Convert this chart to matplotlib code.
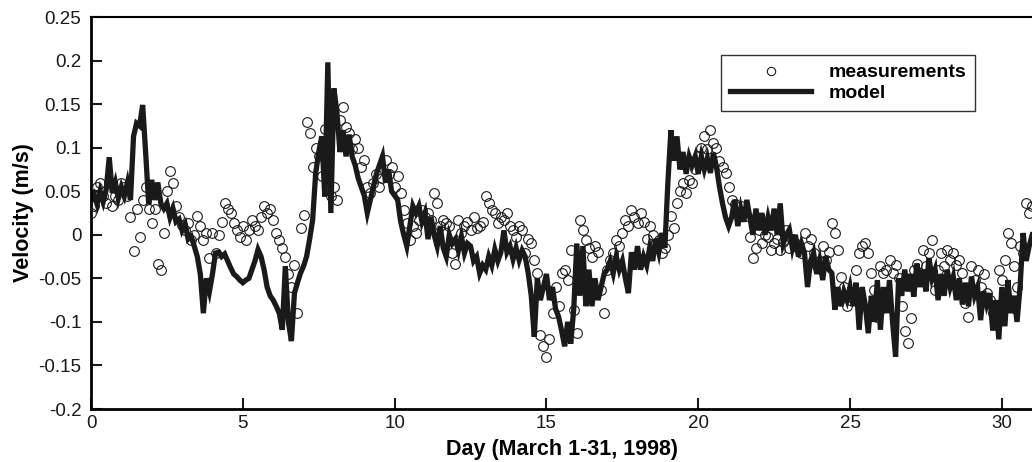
import numpy as np
import matplotlib
matplotlib.use('Agg')
from matplotlib import pyplot as plt

plt.rcParams['font.family'] = ['Liberation Sans', 'DejaVu Sans']

# sampling step of both series (days)
step = 0.1

# model velocity (m/s), days 0.0 .. 31.0
model = [
    0.040, 0.046, 0.035, 0.050, 0.038, 0.052, 0.089, 0.048, 0.060, 0.042,
    0.055, 0.045, 0.060, 0.040, 0.113, 0.128, 0.125, 0.149, 0.094, 0.035,
    0.063, 0.040, 0.060, 0.036, 0.030, 0.036, 0.020, 0.030, 0.015, 0.018,
    0.005, 0.012, -0.005, -0.002, -0.013, -0.025, -0.045, -0.090, -0.050, -0.065,
    -0.045, -0.021, -0.020, -0.025, -0.022, -0.030, -0.038, -0.045, -0.048, -0.052,
    -0.055, -0.052, -0.050, -0.040, -0.030, -0.017, -0.025, -0.040, -0.060, -0.070,
    -0.075, -0.082, -0.090, -0.109, -0.036, -0.100, -0.122, -0.067, -0.055, -0.044,
    -0.036, -0.025, -0.005, 0.017, 0.071, 0.095, 0.113, 0.044, 0.198, 0.025,
    0.168, 0.140, 0.095, 0.120, 0.090, 0.115, 0.090, 0.080, 0.065, 0.055,
    0.045, 0.025, 0.040, 0.055, 0.070, 0.080, 0.090, 0.060, 0.075, 0.050,
    0.045, 0.040, 0.015, 0.000, -0.013, 0.010, 0.033, 0.025, 0.033, 0.015,
    0.025, -0.005, 0.020, 0.000, -0.013, 0.010, -0.015, -0.025, 0.000, -0.010,
    -0.005, -0.018, -0.002, -0.021, -0.010, -0.013, -0.030, -0.025, -0.044, -0.035,
    -0.040, -0.025, -0.035, -0.017, -0.030, -0.020, 0.005, -0.020, -0.013, -0.028,
    -0.015, -0.029, -0.018, -0.025, -0.044, -0.070, -0.117, -0.050, -0.075, -0.060,
    -0.045, -0.075, -0.060, -0.085, -0.094, -0.110, -0.128, -0.100, -0.125, -0.085,
    -0.010, -0.070, -0.013, -0.082, -0.040, -0.082, -0.050, -0.075, -0.060, -0.045,
    -0.040, -0.030, -0.044, -0.025, -0.040, -0.030, -0.050, -0.067, -0.020, -0.040,
    -0.013, -0.040, -0.025, -0.035, -0.015, -0.030, -0.005, -0.020, 0.002, -0.015,
    0.060, 0.120, 0.085, 0.113, 0.075, 0.095, 0.070, 0.090, 0.080, 0.090,
    0.070, 0.090, 0.075, 0.088, 0.071, 0.094, 0.078, 0.055, 0.036, 0.020,
    0.010, 0.020, 0.040, 0.010, 0.030, 0.015, 0.040, 0.020, 0.000, 0.030,
    0.005, 0.025, 0.000, 0.020, 0.005, 0.030, 0.000, 0.036, -0.010, 0.000,
    0.006, -0.015, 0.000, -0.025, -0.010, -0.021, -0.060, -0.030, -0.021, -0.045,
    -0.030, -0.052, -0.025, -0.040, -0.044, -0.086, -0.060, -0.082, -0.065, -0.075,
    -0.060, -0.082, -0.055, -0.109, -0.060, -0.080, -0.113, -0.070, -0.100, -0.052,
    -0.109, -0.060, -0.090, -0.052, -0.100, -0.140, -0.050, -0.070, -0.040, -0.065,
    -0.045, -0.071, -0.033, -0.060, -0.040, -0.065, -0.027, -0.050, -0.040, -0.075,
    -0.045, -0.070, -0.040, -0.060, -0.048, -0.075, -0.050, -0.080, -0.055, -0.082,
    -0.048, -0.070, -0.060, -0.098, -0.065, -0.080, -0.067, -0.110, -0.075, -0.120,
    -0.060, -0.105, -0.052, -0.090, -0.070, -0.100, -0.060, 0.002, -0.030, -0.013,
    0.000,
]

# measured velocity (m/s), days 0.0 .. 31.0
measured = [
    0.025, 0.033, 0.055, 0.060, 0.045, 0.036, 0.060, 0.033, 0.045, 0.040,
    0.060, 0.055, 0.044, 0.020, -0.019, 0.030, -0.002, 0.040, 0.055, 0.030,
    0.013, 0.030, -0.033, -0.040, 0.002, 0.050, 0.073, 0.060, 0.033, 0.020,
    0.011, 0.005, 0.013, -0.006, 0.000, 0.021, 0.010, -0.006, 0.002, -0.027,
    0.002, -0.021, 0.000, 0.015, 0.036, 0.030, 0.025, 0.013, 0.005, -0.002,
    0.010, -0.006, 0.005, 0.017, 0.010, 0.006, 0.020, 0.033, 0.025, 0.030,
    0.017, 0.002, -0.006, -0.015, -0.025, -0.045, -0.060, -0.035, -0.090, 0.008,
    0.023, 0.130, 0.117, 0.078, 0.100, 0.090, 0.067, 0.122, 0.052, 0.045,
    0.055, 0.040, 0.132, 0.147, 0.124, 0.117, 0.098, 0.110, 0.100, 0.078,
    0.086, 0.055, 0.048, 0.060, 0.070, 0.055, 0.065, 0.086, 0.070, 0.078,
    0.055, 0.067, 0.048, 0.029, 0.013, -0.006, 0.010, 0.002, 0.017, 0.029,
    0.020, 0.025, 0.017, 0.048, 0.036, 0.010, 0.017, 0.013, 0.010, -0.021,
    -0.033, 0.017, 0.002, 0.010, 0.015, 0.005, 0.020, 0.008, 0.010, 0.015,
    0.044, 0.036, 0.029, 0.025, 0.013, 0.020, 0.017, 0.025, 0.010, 0.005,
    -0.002, 0.010, 0.006, -0.021, -0.005, -0.010, -0.029, -0.044, -0.115, -0.128,
    -0.140, -0.120, -0.090, -0.060, -0.082, -0.044, -0.040, -0.052, -0.017, -0.086,
    -0.113, 0.017, 0.005, -0.006, -0.015, -0.025, -0.013, -0.020, -0.063, -0.090,
    -0.040, -0.029, -0.021, -0.006, -0.013, 0.002, 0.017, 0.010, 0.029, 0.020,
    0.013, 0.025, 0.015, -0.005, 0.010, 0.000, -0.010, -0.006, -0.021, -0.015,
    0.000, 0.021, 0.008, 0.036, 0.050, 0.060, 0.048, 0.063, 0.060, 0.075,
    0.090, 0.100, 0.113, 0.098, 0.120, 0.105, 0.100, 0.085, 0.078, 0.071,
    0.055, 0.040, 0.035, 0.025, 0.033, 0.025, 0.021, -0.002, -0.027, -0.015,
    0.006, -0.010, 0.000, -0.002, -0.017, -0.010, -0.005, -0.017, -0.008, 0.006,
    -0.015, -0.005, -0.010, -0.015, -0.021, 0.002, -0.013, -0.005, -0.021, -0.036,
    -0.030, -0.013, -0.029, -0.020, 0.013, 0.002, -0.017, -0.048, -0.060, -0.082,
    -0.075, -0.067, -0.040, -0.021, -0.013, -0.010, -0.021, -0.044, -0.063, -0.094,
    -0.036, -0.044, -0.040, -0.029, -0.044, -0.035, -0.050, -0.082, -0.110, -0.124,
    -0.095, -0.040, -0.033, -0.044, -0.017, -0.036, -0.021, -0.006, -0.063, -0.040,
    -0.021, -0.036, -0.017, -0.029, -0.021, -0.035, -0.029, -0.044, -0.078, -0.094,
    -0.036, -0.052, -0.040, -0.060, -0.045, -0.067, -0.075, -0.090, -0.082, -0.040,
    -0.052, -0.029, 0.002, -0.010, -0.036, -0.060, -0.013, -0.021, 0.036, 0.025,
    0.033,
]

x_ticks = [0, 5, 10, 15, 20, 25, 30]
y_ticks = [-0.2, -0.15, -0.1, -0.05, 0, 0.05, 0.1, 0.15, 0.2, 0.25]
y_tick_labels = ['-0.2', '-0.15', '-0.1', '-0.05', '0', '0.05', '0.1',
                 '0.15', '0.2', '0.25']

days = np.arange(len(model)) * step

fig = plt.figure(figsize=(10.32, 4.62), dpi=100)
ax = fig.add_axes([0.0882, 0.1147, 0.912, 0.8485])

ax.plot(days, measured, 'o', mfc='none', mec='#1a1a1a', ms=7, mew=0.8,
        label='measurements', zorder=3)
ax.plot(days, model, '-', color='#1a1a1a', lw=3.8, solid_joinstyle='miter',
        label='model', zorder=2)

ax.set_xlim(0, 31)
ax.set_ylim(-0.2, 0.25)
ax.set_xticks(x_ticks)
ax.set_yticks(y_ticks)
ax.set_yticklabels(y_tick_labels)
ax.tick_params(direction='in', length=8, width=1.5, labelsize=13.5,
               colors='#1a1a1a')
ax.tick_params(axis='y', pad=7)
ax.tick_params(axis='x', pad=4)

for side in ['left', 'bottom']:
    ax.spines[side].set_linewidth(2)
ax.spines['top'].set_linewidth(1.5)
ax.spines['right'].set_visible(False)

ax.set_xlabel('Day (March 1-31, 1998)', fontsize=15.5, fontweight='bold',
              labelpad=5)
ax.set_ylabel('Velocity (m/s)', fontsize=15.5, fontweight='bold', labelpad=3)

leg = ax.legend(loc='upper right', bbox_to_anchor=(0.939, 0.903),
                borderaxespad=0, fancybox=False, framealpha=1,
                edgecolor='#333333', handlelength=4.2, handletextpad=0.87,
                borderpad=0.45, labelspacing=0.15,
                prop={'weight': 'bold', 'size': 14})
leg.get_frame().set_linewidth(1)
leg.legend_handles[0].set_markersize(6)

fig.savefig('out.png', dpi=100)
